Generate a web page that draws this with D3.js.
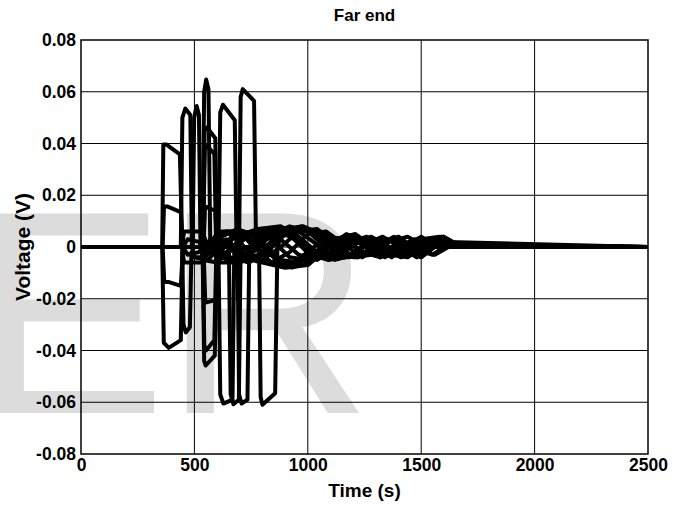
<!DOCTYPE html>
<html>
<head>
<meta charset="utf-8">
<script src="https://cdn.jsdelivr.net/npm/d3@7"></script>
<style>
  body { margin: 0; background: #fff; }
  text { font-family: "Liberation Sans", Arial, sans-serif; }
</style>
</head>
<body>
<svg id="chart" width="683" height="506"></svg>
<script>
// axis ticks
var xTicks = [0, 500, 1000, 1500, 2000, 2500];
var yTicks = [-0.08, -0.06, -0.04, -0.02, 0, 0.02, 0.04, 0.06, 0.08];

// traces: [time (s), voltage (V)]
var pulseA_pos = [[0,0],[358,0],[363,0.0396],[377,0.0396],[436,0.0358],[446,0.001],[455,0.006],[535,0.006],[555,0.001],[600,-0.003],[680,0.004],[780,0.007],[880,0.008],[960,0.004],[1040,-0.002],[1120,-0.004],[1200,0.001],[1280,0.004],[1360,0],[1440,-0.003],[1520,0.002],[1600,0],[2500,0]];
var pulseA_neg = [[0,0],[358,0],[365,-0.037],[387,-0.039],[440,-0.036],[448,-0.002],[455,-0.006],[535,-0.006],[555,-0.001],[620,0.003],[700,-0.004],[800,-0.006],[900,-0.008],[1000,-0.007],[1080,-0.001],[1160,0.004],[1240,0.001],[1320,-0.004],[1400,0],[1470,0.003],[1540,0],[2500,0]];
var innerA_pos = [[0,0],[360,0],[366,0.0157],[380,0.0157],[440,0.0135],[450,0],[470,-0.003],[520,-0.002],[560,0.002],[640,0.006],[720,0.006],[800,0.002],[880,-0.005],[960,-0.006],[1040,-0.003],[1120,0.003],[1210,0.005],[1290,0],[1370,-0.004],[1450,0.002],[1510,0.003],[1560,0],[2500,0]];
var innerA_neg = [[0,0],[360,0],[367,-0.0135],[385,-0.0135],[440,-0.015],[450,0],[470,0.003],[520,0.002],[560,-0.002],[650,-0.005],[740,-0.003],[820,0.003],[900,0.007],[980,0.008],[1060,0.005],[1140,-0.001],[1220,-0.004],[1300,0],[1380,0.004],[1460,0],[1530,-0.002],[1590,0.004],[1640,0.0005],[2500,0]];
var pulseB_pos = [[0,0],[440,0],[447,0.05],[460,0.0535],[482,0.051],[489,0],[500,-0.004],[560,-0.005],[600,-0.001],[680,0.005],[760,0.006],[840,0.003],[920,-0.004],[1000,-0.005],[1080,0],[1160,0.003],[1240,-0.002],[1320,-0.003],[1400,0.002],[1480,-0.002],[1560,0],[2500,0]];
var pulseB_neg = [[0,0],[446,0],[452,-0.030],[462,-0.033],[480,-0.031],[487,-0.002],[500,-0.004],[545,-0.004],[590,0],[660,-0.004],[740,-0.006],[820,-0.002],[900,0.005],[980,0.007],[1060,0.003],[1140,-0.003],[1220,-0.004],[1300,0.001],[1380,0.003],[1450,-0.002],[1520,0],[2500,0]];
var pulseC_pos = [[0,0],[492,0],[499,0.05],[510,0.0545],[520,0.051],[527,0],[540,-0.005],[600,-0.006],[640,-0.002],[720,0.004],[800,0.006],[880,0.007],[960,0.002],[1040,-0.004],[1120,-0.003],[1190,0.002],[1260,0.004],[1340,0],[1420,-0.003],[1500,0.003],[1580,0.004],[1640,0.001],[2500,0]];
var spikeD = [[0,0],[535,0],[543,0.06],[552,0.0647],[562,0.061],[570,0],[590,0.004],[640,0.006],[700,0.002],[760,-0.004],[840,-0.006],[920,-0.002],[1000,0.005],[1080,0.006],[1160,0.001],[1240,-0.004],[1320,0.001],[1400,0.004],[1480,-0.001],[1550,-0.003],[1620,0.001],[1700,0],[2500,0]];
var pulseE_pos = [[0,0],[538,0],[545,0.045],[556,0.0462],[592,0.042],[600,0],[620,-0.004],[700,-0.006],[780,-0.003],[860,0.004],[940,0.007],[1020,0.006],[1100,0.001],[1180,-0.004],[1260,-0.002],[1340,0.003],[1420,0.001],[1490,-0.003],[1560,0.001],[2500,0]];
var pulseE_neg = [[0,0],[536,0],[543,-0.044],[550,-0.0458],[590,-0.042],[599,0],[615,-0.006],[700,-0.006],[760,0.001],[850,0.006],[930,0.006],[1010,0],[1090,-0.005],[1170,-0.004],[1250,0.001],[1330,0.004],[1410,0],[1480,-0.004],[1540,0],[2500,0]];
var pulseF_pos = [[0,0],[538,0],[546,0.038],[556,0.039],[588,0.036],[596,0],[615,0.006],[700,0.006],[760,0],[840,-0.006],[920,-0.007],[1000,-0.002],[1080,0.004],[1160,0.003],[1240,-0.002],[1320,-0.004],[1400,0],[1480,0.003],[1550,0],[2500,0]];
var pulseF_neg = [[0,0],[536,0],[544,-0.038],[551,-0.040],[588,-0.036],[597,0],[620,0.004],[690,0.007],[770,0.004],[850,-0.003],[930,-0.008],[1010,-0.006],[1090,0],[1170,0.005],[1250,0.002],[1330,-0.003],[1410,-0.002],[1490,0.002],[1560,0],[2500,0]];
var innerF_pos = [[0,0],[540,0],[547,0.0157],[592,0.014],[600,0],[640,0.003],[720,-0.003],[800,-0.005],[880,0],[960,0.006],[1040,0.007],[1120,0.002],[1200,-0.004],[1280,-0.003],[1360,0.002],[1440,0.004],[1520,0],[1600,0.001],[2500,0]];
var innerF_neg = [[0,0],[540,0],[548,-0.0215],[595,-0.0205],[602,0],[640,-0.003],[720,0.003],[800,0.007],[880,0.003],[960,-0.003],[1040,-0.005],[1120,-0.001],[1200,0.004],[1280,0.002],[1360,-0.003],[1440,-0.004],[1510,0],[1570,0.002],[2500,0]];
var pulseG_pos = [[0,0],[606,0],[614,0.052],[626,0.055],[678,0.049],[686,0],[700,-0.004],[760,-0.002],[840,0.005],[920,0.008],[1000,0.006],[1080,0],[1160,-0.004],[1240,-0.003],[1320,0.002],[1400,0.003],[1480,-0.001],[1560,-0.003],[1620,0],[2500,0]];
var pulseG_neg = [[0,0],[606,0],[614,-0.057],[628,-0.0605],[668,-0.059],[676,0],[700,0.004],[780,0.002],[860,-0.005],[940,-0.007],[1020,-0.003],[1100,0.003],[1180,0.004],[1260,0],[1340,-0.004],[1420,0],[1500,0.004],[1570,0],[2500,0]];
var pulseH_pos = [[0,0],[697,0],[704,0.058],[713,0.061],[763,0.0565],[772,0],[790,0.005],[860,0.007],[940,0.003],[1020,-0.004],[1100,-0.004],[1180,0.002],[1260,0.003],[1340,-0.002],[1420,-0.003],[1500,0.002],[1580,0.003],[1650,0.001],[2500,0]];
var pulseI_neg = [[0,0],[652,0],[660,-0.057],[672,-0.0608],[696,-0.059],[704,0],[730,-0.004],[800,-0.003],[880,0.004],[960,0.006],[1040,0.001],[1120,-0.005],[1200,-0.003],[1280,0.002],[1360,0.003],[1440,-0.002],[1500,-0.004],[1560,0],[2500,0]];
var pulseJ_neg = [[0,0],[690,0],[697,-0.057],[708,-0.0605],[734,-0.059],[742,0],[770,0.003],[850,0.006],[930,0.004],[1010,-0.003],[1090,-0.005],[1170,-0.001],[1250,0.003],[1330,0.001],[1410,-0.004],[1490,-0.001],[1570,0.002],[1640,0],[2500,0]];
var pulseK_neg = [[0,0],[785,0],[792,-0.058],[800,-0.061],[856,-0.0565],[866,0],[890,0.006],[970,0.008],[1050,0.004],[1130,-0.002],[1210,-0.004],[1290,0],[1370,0.003],[1450,0.001],[1530,-0.002],[1600,0.004],[1660,0.001],[1800,0.0005],[2100,0],[2500,0]];

var traces = [pulseA_pos, pulseA_neg, innerA_pos, innerA_neg, pulseB_pos, pulseB_neg,
    pulseC_pos, spikeD, pulseE_pos, pulseE_neg, pulseF_pos, pulseF_neg, innerF_pos,
    innerF_neg, pulseG_pos, pulseG_neg, pulseH_pos, pulseI_neg, pulseJ_neg, pulseK_neg];

var svg = d3.select("#chart");
var plotLeft = 81, plotRight = 648, plotTop = 40, plotBottom = 454;

var x = d3.scaleLinear().domain([0, 2500]).range([plotLeft, plotRight]);
var y = d3.scaleLinear().domain([-0.08, 0.08]).range([plotBottom, plotTop]);

svg.append("rect").attr("width", 683).attr("height", 506).attr("fill", "#fff");

// faint watermark behind everything
var mark = svg.append("g")
    .attr("fill", "#dcdcdc")
    .style("font-family", "'Liberation Sans', Arial, sans-serif")
    .style("font-size", "290px");
mark.append("text").attr("x", -27).attr("y", 413).text("E");
mark.append("text").attr("x", 163).attr("y", 413).text("R");

// grid
svg.append("g").selectAll("line").data(xTicks.slice(1, -1)).join("line")
    .attr("x1", x).attr("x2", x).attr("y1", plotTop).attr("y2", plotBottom)
    .attr("stroke", "#000").attr("stroke-width", 1);
svg.append("g").selectAll("line").data(yTicks.slice(1, -1)).join("line")
    .attr("x1", plotLeft).attr("x2", plotRight).attr("y1", y).attr("y2", y)
    .attr("stroke", "#000").attr("stroke-width", 1);

svg.append("clipPath").attr("id", "plot-clip")
    .append("rect").attr("x", plotLeft).attr("y", plotTop)
    .attr("width", plotRight - plotLeft).attr("height", plotBottom - plotTop);

var line = d3.line()
    .x(function (d) { return x(d[0]); })
    .y(function (d) { return y(d[1]); });

svg.append("g").attr("clip-path", "url(#plot-clip)")
    .selectAll("path").data(traces).join("path")
    .attr("d", line)
    .attr("fill", "none")
    .attr("stroke", "#000")
    .attr("stroke-width", 4)
    .attr("stroke-linejoin", "round");

// box
svg.append("rect")
    .attr("x", plotLeft).attr("y", plotTop)
    .attr("width", plotRight - plotLeft).attr("height", plotBottom - plotTop)
    .attr("fill", "none").attr("stroke", "#000").attr("stroke-width", 1.5);

// axes
var xAxis = svg.append("g")
    .attr("transform", "translate(0," + plotBottom + ")")
    .call(d3.axisBottom(x).tickValues(xTicks).tickSize(0).tickPadding(5).tickFormat(d3.format("d")));
var yAxis = svg.append("g")
    .attr("transform", "translate(" + plotLeft + ",0)")
    .call(d3.axisLeft(y).tickValues(yTicks).tickSize(0).tickPadding(5)
        .tickFormat(function (d) { return d === 0 ? "0" : d.toFixed(2); }));

[xAxis, yAxis].forEach(function (g) {
    g.select(".domain").remove();
    g.selectAll("text")
        .attr("fill", "#000")
        .style("font-family", "'Liberation Sans', Arial, sans-serif")
        .style("font-size", "17.5px")
        .style("font-weight", "bold");
});

// titles
svg.append("text")
    .attr("x", (plotLeft + plotRight) / 2).attr("y", 21)
    .attr("text-anchor", "middle")
    .style("font-size", "17px").style("font-weight", "bold")
    .text("Far end");

svg.append("text")
    .attr("x", (plotLeft + plotRight) / 2).attr("y", 497)
    .attr("text-anchor", "middle")
    .style("font-size", "19px").style("font-weight", "bold")
    .text("Time (s)");

svg.append("text")
    .attr("transform", "translate(30," + (plotTop + plotBottom) / 2 + ") rotate(-90)")
    .attr("text-anchor", "middle")
    .style("font-size", "21px").style("font-weight", "bold")
    .text("Voltage (V)");
</script>
</body>
</html>
